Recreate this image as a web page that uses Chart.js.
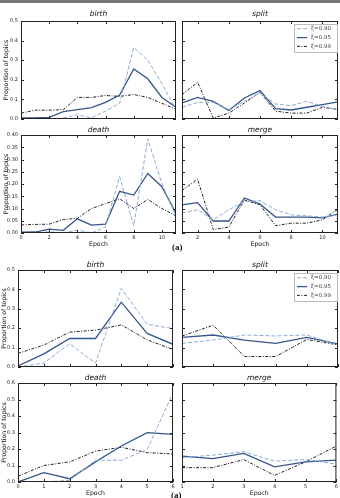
<!DOCTYPE html>
<html>
<head>
<meta charset="utf-8">
<script src="https://cdn.jsdelivr.net/npm/chart.js@4"></script>
<style>
  html, body { margin: 0; padding: 0; background: #fff; }
  body { width: 340px; height: 498px; position: relative; overflow: hidden; }
  canvas { position: absolute; left: 0; top: 0; }
  .strip { position: absolute; left: 0; top: 0; width: 340px; height: 3px; background: #777; }
  .tag { position: absolute; font: bold 9px "Liberation Serif", serif; color: #111; line-height: 9px; }
</style>
</head>
<body>
<div class="strip"></div>
<canvas id="aBirth" width="340" height="498"></canvas>
<canvas id="aSplit" width="340" height="498"></canvas>
<canvas id="aDeath" width="340" height="498"></canvas>
<canvas id="aMerge" width="340" height="498"></canvas>
<canvas id="bBirth" width="340" height="498"></canvas>
<canvas id="bSplit" width="340" height="498"></canvas>
<canvas id="bDeath" width="340" height="498"></canvas>
<canvas id="bMerge" width="340" height="498"></canvas>
<div class="tag" style="left:172px; top:243px;">(a)</div>
<div class="tag" style="left:171px; top:491px;">(a)</div>
<script>
// series labels
var seriesNames = ['ξ=0.90', 'ξ=0.95', 'ξ=0.99'];

// upper figure: epochs 0..11
var epochsA = [0, 1, 2, 3, 4, 5, 6, 7, 8, 9, 10, 11];
var epochsA2 = [1, 2, 3, 4, 5, 6, 7, 8, 9, 10, 11];
var birthA90 = [0, 0, 0, 0.005, 0.022, 0.005, 0.04, 0.08, 0.365, 0.30, 0.18, 0.05];
var birthA95 = [0.005, 0.005, 0.008, 0.038, 0.048, 0.058, 0.085, 0.122, 0.255, 0.205, 0.11, 0.06];
var birthA99 = [0.03, 0.045, 0.045, 0.048, 0.11, 0.11, 0.12, 0.115, 0.125, 0.11, 0.08, 0.05];
var splitA90 = [0.06, 0.085, 0.085, 0.048, 0.09, 0.133, 0.077, 0.068, 0.09, 0.065, 0.048];
var splitA95 = [0.082, 0.11, 0.09, 0.043, 0.107, 0.145, 0.053, 0.046, 0.06, 0.073, 0.087];
var splitA99 = [0.125, 0.187, 0.005, 0.03, 0.082, 0.136, 0.04, 0.03, 0.03, 0.06, 0.048];
var deathA90 = [0, 0, 0.005, 0, 0.012, 0, 0.025, 0.23, 0.03, 0.385, 0.2, 0.07];
var deathA95 = [0.003, 0.004, 0.016, 0.011, 0.058, 0.032, 0.036, 0.17, 0.155, 0.243, 0.189, 0.08];
var deathA99 = [0.033, 0.035, 0.036, 0.055, 0.06, 0.1, 0.12, 0.14, 0.1, 0.137, 0.1, 0.07];
var mergeA90 = [0.081, 0.095, 0.054, 0.095, 0.128, 0.132, 0.095, 0.074, 0.07, 0.065, 0.074];
var mergeA95 = [0.115, 0.124, 0.049, 0.049, 0.143, 0.118, 0.065, 0.065, 0.065, 0.062, 0.077];
var mergeA99 = [0.173, 0.22, 0.014, 0.024, 0.135, 0.115, 0.03, 0.04, 0.04, 0.054, 0.097];

// lower figure: epochs 0..6
var epochsB = [0, 1, 2, 3, 4, 5, 6];
var epochsB2 = [1, 2, 3, 4, 5, 6];
var birthB90 = [0, 0.02, 0.12, 0.02, 0.405, 0.22, 0.198];
var birthB95 = [0.005, 0.068, 0.147, 0.147, 0.334, 0.173, 0.117];
var birthB99 = [0.07, 0.113, 0.18, 0.19, 0.217, 0.14, 0.09];
var splitB90 = [0.122, 0.139, 0.165, 0.16, 0.165, 0.114];
var splitB95 = [0.153, 0.165, 0.139, 0.122, 0.153, 0.119];
var splitB99 = [0.16, 0.215, 0.054, 0.054, 0.142, 0.114];
var deathB90 = [0, 0, 0.01, 0.132, 0.132, 0.197, 0.54];
var deathB95 = [0, 0.057, 0.02, 0.122, 0.218, 0.299, 0.289];
var deathB99 = [0.035, 0.1, 0.122, 0.187, 0.21, 0.178, 0.17];
var mergeB90 = [0.148, 0.163, 0.183, 0.126, 0.136, 0.108];
var mergeB95 = [0.157, 0.142, 0.173, 0.092, 0.122, 0.132];
var mergeB99 = [0.087, 0.087, 0.136, 0.04, 0.122, 0.218];

// tick values
var xTicksA = [0, 2, 4, 6, 8, 10];
var xTicksA2 = [2, 4, 6, 8, 10];
var xTicksB = [0, 1, 2, 3, 4, 5, 6];
var xTicksB2 = [1, 2, 3, 4, 5, 6];
var yTicks05 = [0, 0.1, 0.2, 0.3, 0.4, 0.5];
var yTicks040 = [0, 0.05, 0.1, 0.15, 0.2, 0.25, 0.3, 0.35, 0.4];
var yTicks06 = [0, 0.1, 0.2, 0.3, 0.4, 0.5, 0.6];

var FONT = '"DejaVu Sans", sans-serif';
var lineStyles = [
    { color: '#8eaad6', width: 1, dash: [4, 2] },
    { color: '#35558c', width: 1.3, dash: [] },
    { color: '#222222', width: 1, dash: [3, 1.5, 1, 1.5] }
];

// frame, inward ticks, titles, legend
var deco = {
    id: 'deco',
    afterDraw: function(chart) {
        var o = chart.options.plugins.deco;
        var ctx = chart.ctx, a = chart.chartArea;
        var xs = chart.scales.x, ys = chart.scales.y;
        ctx.save();
        ctx.strokeStyle = '#222';
        ctx.lineWidth = 1;
        ctx.setLineDash([]);
        ctx.strokeRect(a.left + 0.5, a.top + 0.5, a.right - a.left - 1, a.bottom - a.top - 1);
        ctx.beginPath();
        xs.ticks.forEach(function(t) {
            var px = Math.round(xs.getPixelForValue(t.value)) + 0.5;
            ctx.moveTo(px, a.top); ctx.lineTo(px, a.top + 3);
            ctx.moveTo(px, a.bottom); ctx.lineTo(px, a.bottom - 3);
        });
        ys.ticks.forEach(function(t) {
            var py = Math.round(ys.getPixelForValue(t.value)) + 0.5;
            ctx.moveTo(a.left, py); ctx.lineTo(a.left + 3, py);
            ctx.moveTo(a.right, py); ctx.lineTo(a.right - 3, py);
        });
        ctx.stroke();

        ctx.fillStyle = '#111';
        ctx.textAlign = 'center';
        ctx.textBaseline = 'middle';
        ctx.font = 'italic 7.5px ' + FONT;
        ctx.fillText(o.title, (a.left + a.right) / 2, a.top - o.titleGap);
        ctx.font = '6.2px ' + FONT;
        if (o.xlabel) {
            ctx.fillText(o.xlabel, (a.left + a.right) / 2, a.bottom + 11.5);
        }
        if (o.ylabel) {
            ctx.save();
            ctx.translate(o.ylabelX, (a.top + a.bottom) / 2);
            ctx.rotate(-Math.PI / 2);
            ctx.fillText(o.ylabel, 0, 0);
            ctx.restore();
        }
        if (o.legend) {
            var bx = a.right - 44, by = a.top + 3;
            ctx.fillStyle = '#fff';
            ctx.fillRect(bx, by, 43, 28);
            ctx.strokeStyle = '#bbb';
            ctx.strokeRect(bx + 0.5, by + 0.5, 43, 28);
            ctx.font = '5.5px ' + FONT;
            ctx.textAlign = 'left';
            chart.data.datasets.forEach(function(ds, i) {
                var ry = by + 4.8 + i * 8.8;
                ctx.strokeStyle = ds.borderColor;
                ctx.lineWidth = ds.borderWidth;
                ctx.setLineDash(ds.borderDash);
                ctx.beginPath();
                ctx.moveTo(bx + 3, ry); ctx.lineTo(bx + 13, ry);
                ctx.stroke();
                ctx.fillStyle = '#444';
                ctx.fillText(ds.label, bx + 17, ry);
            });
        }
        ctx.restore();
    }
};

function makeChart(id, frame, epochs, vals, xmin, xmax, xticks, yticks, ydec, opts) {
    var datasets = vals.map(function(v, i) {
        var st = lineStyles[i];
        return {
            label: seriesNames[i],
            data: epochs.map(function(e, k) { return { x: e, y: v[k] }; }),
            borderColor: st.color,
            borderWidth: st.width,
            borderDash: st.dash,
            pointRadius: 0,
            tension: 0,
            fill: false
        };
    });
    return new Chart(document.getElementById(id), {
        type: 'line',
        data: { datasets: datasets },
        plugins: [deco],
        options: {
            responsive: false,
            animation: false,
            events: [],
            layout: {
                padding: { left: frame.l - 20, top: frame.t, right: 340 - frame.r, bottom: 498 - frame.b - 10 }
            },
            plugins: {
                legend: { display: false },
                tooltip: { enabled: false },
                deco: opts
            },
            scales: {
                x: {
                    type: 'linear', min: xmin, max: xmax,
                    grid: { display: false, drawTicks: false }, border: { display: false },
                    afterBuildTicks: function(axis) { axis.ticks = xticks.map(function(v) { return { value: v }; }); },
                    afterFit: function(axis) { axis.height = 10; },
                    ticks: {
                        display: opts.xnums, padding: 2, maxRotation: 0, autoSkip: false,
                        color: '#222', font: { family: FONT, size: 5 },
                        callback: function(v) { return String(v); }
                    }
                },
                y: {
                    min: 0, max: yticks[yticks.length - 1],
                    grid: { display: false, drawTicks: false }, border: { display: false },
                    afterBuildTicks: function(axis) { axis.ticks = yticks.map(function(v) { return { value: v }; }); },
                    afterFit: function(axis) { axis.width = 20; },
                    ticks: {
                        display: opts.ynums, padding: 3,
                        color: '#222', font: { family: FONT, size: 5 },
                        callback: function(v) { return Number(v).toFixed(ydec); }
                    }
                }
            }
        }
    });
}

var yl = 'Proportion of topics';
makeChart('aBirth', { l: 21, t: 21, r: 176, b: 119 }, epochsA, [birthA90, birthA95, birthA99], 0, 11, xTicksA, yTicks05, 1,
    { title: 'birth', titleGap: 6.5, ylabel: yl, ylabelX: 6.5, ynums: true, xnums: false });
makeChart('aSplit', { l: 182, t: 21, r: 338, b: 119 }, epochsA2, [splitA90, splitA95, splitA99], 1, 11, xTicksA2, yTicks05, 1,
    { title: 'split', titleGap: 6.5, legend: true, ynums: false, xnums: false });
makeChart('aDeath', { l: 21, t: 135, r: 176, b: 233 }, epochsA, [deathA90, deathA95, deathA99], 0, 11, xTicksA, yTicks040, 2,
    { title: 'death', titleGap: 5, ylabel: yl, ylabelX: 6.5, xlabel: 'Epoch', ynums: true, xnums: true });
makeChart('aMerge', { l: 182, t: 135, r: 338, b: 233 }, epochsA2, [mergeA90, mergeA95, mergeA99], 1, 11, xTicksA2, yTicks040, 2,
    { title: 'merge', titleGap: 5, xlabel: 'Epoch', ynums: false, xnums: true });

makeChart('bBirth', { l: 18, t: 270, r: 173, b: 367 }, epochsB, [birthB90, birthB95, birthB99], 0, 6, xTicksB, yTicks05, 1,
    { title: 'birth', titleGap: 5, ylabel: yl, ylabelX: 4.5, ynums: true, xnums: false });
makeChart('bSplit', { l: 182, t: 270, r: 338, b: 367 }, epochsB2, [splitB90, splitB95, splitB99], 1, 6, xTicksB2, yTicks05, 1,
    { title: 'split', titleGap: 5, legend: true, ynums: false, xnums: false });
makeChart('bDeath', { l: 18, t: 383, r: 173, b: 482 }, epochsB, [deathB90, deathB95, deathB99], 0, 6, xTicksB, yTicks06, 1,
    { title: 'death', titleGap: 5, ylabel: yl, ylabelX: 4.5, xlabel: 'Epoch', ynums: true, xnums: true });
makeChart('bMerge', { l: 182, t: 383, r: 338, b: 482 }, epochsB2, [mergeB90, mergeB95, mergeB99], 1, 6, xTicksB2, yTicks06, 1,
    { title: 'merge', titleGap: 5, xlabel: 'Epoch', ynums: false, xnums: true });
</script>
</body>
</html>
